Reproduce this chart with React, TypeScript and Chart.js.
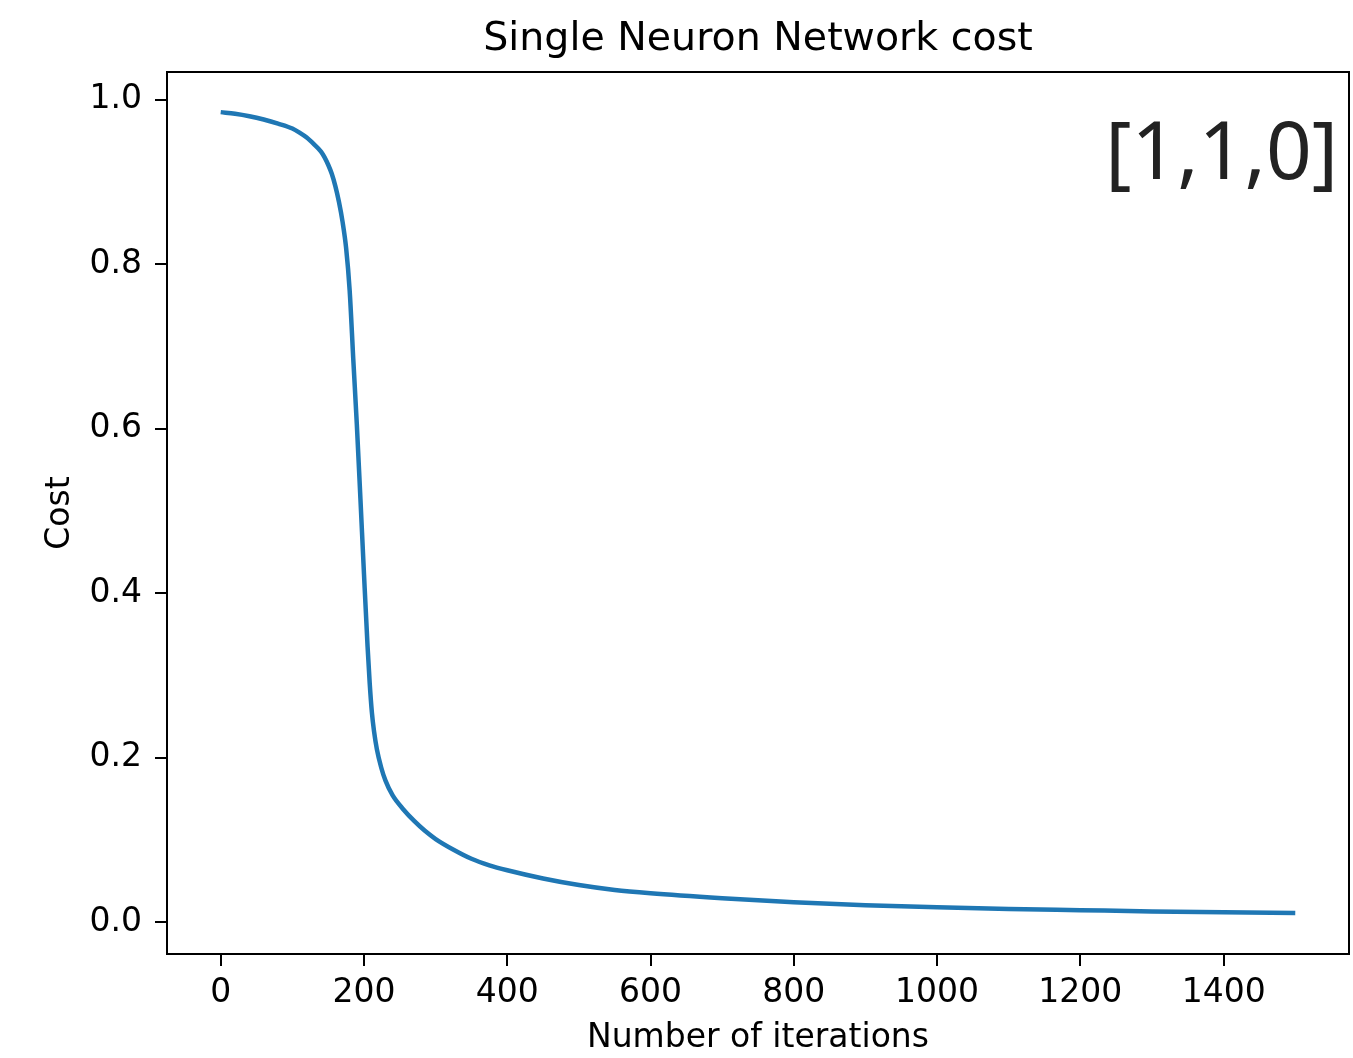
import React, { useEffect, useRef } from "react";
import { Chart, registerables } from "chart.js";

Chart.register(...registerables);

const iterations = [0, 20, 40, 60, 80, 100, 110, 120, 130, 140, 145, 150, 155, 160, 165, 170, 175, 180, 185, 190, 195, 200, 205, 208, 211, 214, 218, 224, 230, 240, 255, 270, 285, 300, 325, 350, 375, 400, 450, 500, 550, 600, 700, 800, 900, 1000, 1100, 1200, 1300, 1400, 1500];
const cost = [0.985, 0.983, 0.98, 0.976, 0.971, 0.965, 0.96, 0.954, 0.946, 0.937, 0.93, 0.921, 0.91, 0.895, 0.876, 0.852, 0.82, 0.768, 0.685, 0.605, 0.515, 0.423, 0.335, 0.29, 0.255, 0.232, 0.21, 0.188, 0.172, 0.154, 0.137, 0.123, 0.111, 0.101, 0.088, 0.077, 0.069, 0.063, 0.053, 0.045, 0.039, 0.035, 0.029, 0.024, 0.0205, 0.018, 0.016, 0.0145, 0.013, 0.012, 0.011];

const xTicks = [0, 200, 400, 600, 800, 1000, 1200, 1400];
const yTicks = [0.0, 0.2, 0.4, 0.6, 0.8, 1.0];

const titleText = "Single Neuron Network cost";
const xLabel = "Number of iterations";
const yLabel = "Cost";
const annotation = "[1,1,0]";

const W = 1353;
const H = 1058;

export default function App() {
  const ref = useRef<HTMLCanvasElement | null>(null);
  useEffect(() => {
    if (!ref.current) return;
    const textPlugin = {
      id: "textPlugin",
      afterDraw(chart: any) {
        const ctx = chart.ctx;
        const a = chart.chartArea;
        ctx.save();
        ctx.strokeStyle = "#000";
        ctx.lineWidth = 2;
        ctx.strokeRect(a.left, a.top, a.right - a.left, a.bottom - a.top);
        ctx.fillStyle = "#000";
        ctx.font = "39.5px 'DejaVu Sans'";
        ctx.textAlign = "center";
        ctx.textBaseline = "alphabetic";
        ctx.fillText(titleText, (a.left + a.right) / 2, 50);
        ctx.font = "33px 'DejaVu Sans'";
        ctx.fillText(xLabel, (a.left + a.right) / 2, 1047);
        ctx.save();
        ctx.translate(69, (a.top + a.bottom) / 2);
        ctx.rotate(-Math.PI / 2);
        ctx.fillText(yLabel, 0, 0);
        ctx.restore();
        ctx.font = "80px 'Noto Sans'";
        ctx.textAlign = "right";
        ctx.fillStyle = "#222";
        ctx.fillText(annotation, 1338, 179);
        ctx.restore();
      },
    };
    const chart = new Chart(ref.current, {
      type: "line",
      data: {
        datasets: [
          {
            data: iterations.map((x, i) => ({ x, y: cost[i] })),
            borderColor: "#1f77b4",
            borderWidth: 4.5,
            pointRadius: 0,
            fill: false,
            cubicInterpolationMode: "monotone",
          },
        ],
      },
      options: {
        animation: false,
        responsive: false,
        devicePixelRatio: 1,
        layout: { padding: { top: 72, right: 4, left: 0, bottom: 0 } },
        plugins: { legend: { display: false }, tooltip: { enabled: false }, title: { display: false } },
        scales: {
          x: {
            type: "linear",
            min: -75,
            max: 1575,
            afterFit: (s: any) => {
              s.height = 104;
            },
            afterBuildTicks: (s: any) => {
              s.ticks = xTicks.map((v) => ({ value: v }));
            },
            grid: { drawOnChartArea: false, drawTicks: true, tickLength: 12, color: "#000", lineWidth: 2 },
            border: { display: false },
            ticks: {
              padding: 8,
              color: "#000",
              font: { family: "'DejaVu Sans'", size: 33 },
              maxRotation: 0,
              autoSkip: false,
              callback: (v: any) => String(v),
            },
          },
          y: {
            type: "linear",
            min: -0.0388,
            max: 1.0338,
            afterFit: (s: any) => {
              s.width = 167;
            },
            afterBuildTicks: (s: any) => {
              s.ticks = yTicks.map((v) => ({ value: v }));
            },
            grid: { drawOnChartArea: false, drawTicks: true, tickLength: 12, color: "#000", lineWidth: 2 },
            border: { display: false },
            ticks: {
              padding: 13,
              color: "#000",
              font: { family: "'DejaVu Sans'", size: 33 },
              autoSkip: false,
              callback: (v: any) => Number(v).toFixed(1),
            },
          },
        },
      },
      plugins: [textPlugin],
    } as any);
    return () => chart.destroy();
  }, []);
  return (
    <div style={{ position: "absolute", left: 0, top: 0, width: W, height: H, background: "#fff" }}>
      <canvas ref={ref} width={W} height={H} style={{ display: "block" }} />
    </div>
  );
}
